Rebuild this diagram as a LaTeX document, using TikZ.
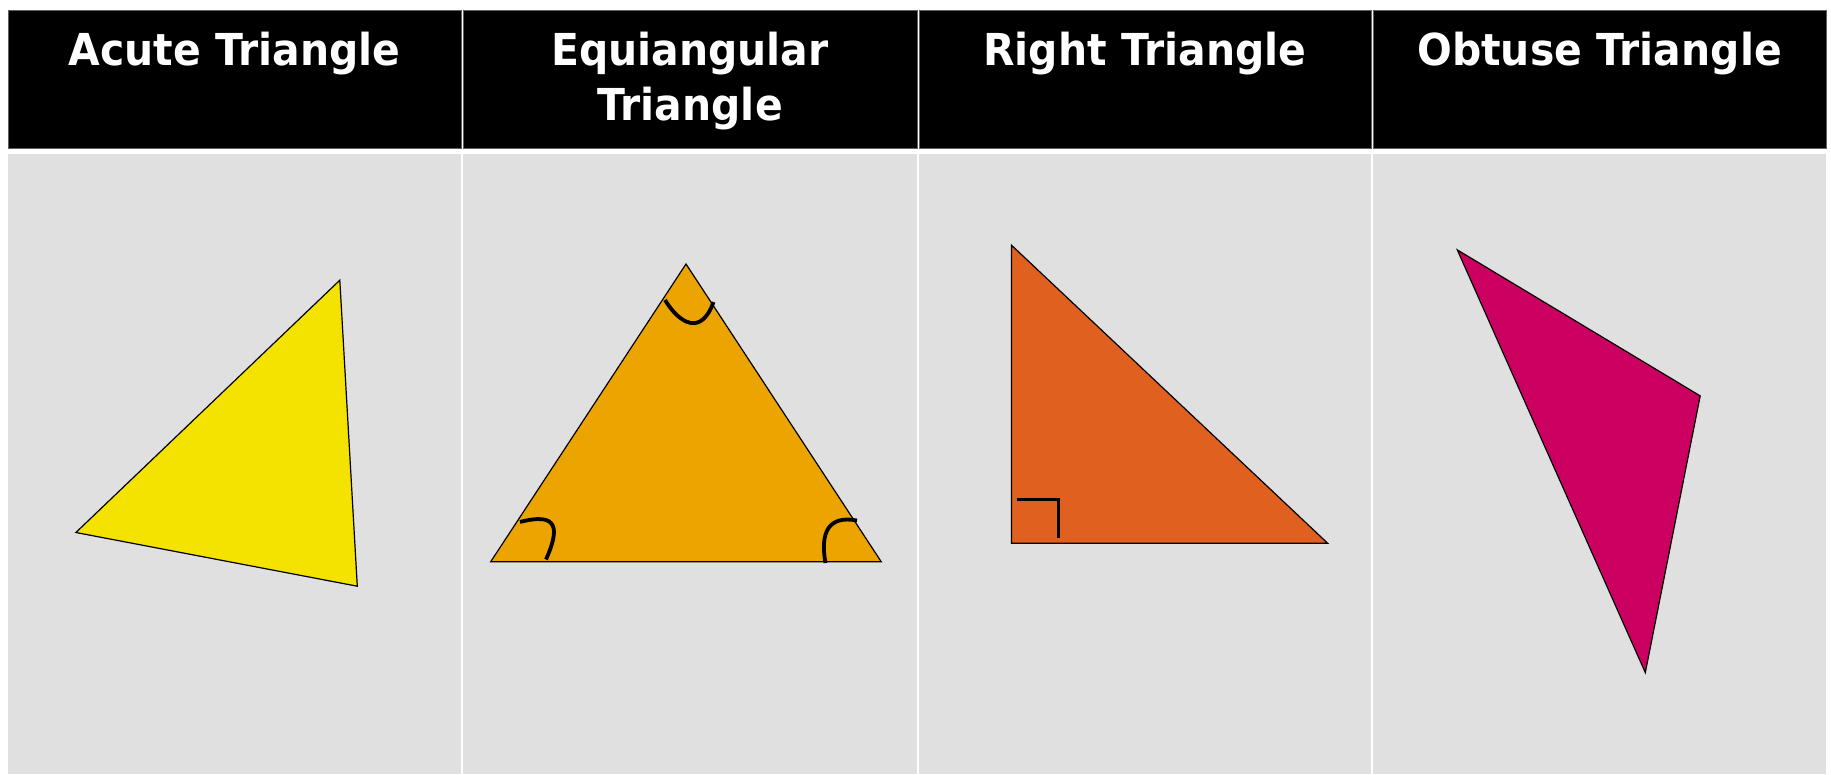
\documentclass[tikz,border=0pt]{standalone}
\usepackage{fontspec}
\newfontfamily\hdrfont[FakeStretch=0.93]{DejaVu Sans}
\definecolor{cellgray}{HTML}{E0E0E0}
\definecolor{hdrborder}{HTML}{606060}
\definecolor{acutecol}{HTML}{F4E200}
\definecolor{equicol}{HTML}{EBA400}
\definecolor{rightcol}{HTML}{E06020}
\definecolor{obtcol}{HTML}{CC0060}
\begin{document}
\begin{tikzpicture}[x=1pt,y=-1pt,
  hdrcell/.style={fill=black,draw=hdrborder,line width=0.8pt},
  bodycell/.style={fill=cellgray},
  hdrtext/.style={text=white,font=\hdrfont\bfseries\fontsize{44}{55}\selectfont,inner sep=0pt,align=center},
  tri/.style={draw=black,line width=1.2pt,line join=miter},
  anglemark/.style={draw=black,line width=3.8pt}
]
\useasboundingbox[fill=white] (0,0) rectangle (1831,774);
% header cells
\path[hdrcell] (8,10) rectangle (461,148);
\path[hdrcell] (463,10) rectangle (917,148);
\path[hdrcell] (919,10) rectangle (1371,148);
\path[hdrcell] (1373,10) rectangle (1826,148);
% body cells
\path[bodycell] (8,154) rectangle (461,774);
\path[bodycell] (463,154) rectangle (917,774);
\path[bodycell] (919,154) rectangle (1371,774);
\path[bodycell] (1373,154) rectangle (1826,774);
% header texts
\node[hdrtext,anchor=base] (h1) at (234.5,65) {Acute Triangle};
\node[hdrtext,anchor=base] (h2) at (690,120) {Equiangular\\Triangle};
\node[hdrtext,anchor=base] (h3) at (1145,65) {Right Triangle};
\node[hdrtext,anchor=base] (h4) at (1599.5,65) {Obtuse Triangle};
% acute
\coordinate (a1) at (75.9,532.5);
\coordinate (a2) at (339.8,280.2);
\coordinate (a3) at (357.3,586.2);
\path[tri,fill=acutecol] (a1) -- (a2) -- (a3) -- cycle;
% equiangular
\coordinate (e1) at (686,264);
\coordinate (e2) at (490.7,561.7);
\coordinate (e3) at (881.2,561.7);
\path[tri,fill=equicol] (e1) -- (e2) -- (e3) -- cycle;
\coordinate (m1s) at (665,300);
\coordinate (m1e) at (713.5,302);
\draw[anglemark] (m1s) .. controls (679,323) and (701,337) .. (m1e);
\coordinate (m2s) at (520,522);
\coordinate (m2e) at (546,559.5);
\draw[anglemark] (m2s) .. controls (558,512) and (560,528) .. (m2e);
\coordinate (m3s) at (857,520.5);
\coordinate (m3e) at (825.5,563);
\draw[anglemark] (m3s) .. controls (828,515) and (820,533) .. (m3e);
% right
\coordinate (r1) at (1011.5,245.2);
\coordinate (r2) at (1011.5,543.3);
\coordinate (r3) at (1327.7,543.3);
\path[tri,fill=rightcol] (r1) -- (r2) -- (r3) -- cycle;
\coordinate (rm1) at (1016.7,499.3);
\coordinate (rm2) at (1058.3,499.3);
\coordinate (rm3) at (1058.3,538.3);
\draw[anglemark,line width=3.4pt] (rm1) -- (rm2) -- (rm3);
% obtuse
\coordinate (o1) at (1457.3,249.9);
\coordinate (o2) at (1700.2,395.9);
\coordinate (o3) at (1645.3,672.6);
\path[tri,fill=obtcol] (o1) -- (o2) -- (o3) -- cycle;
\end{tikzpicture}
\end{document}
